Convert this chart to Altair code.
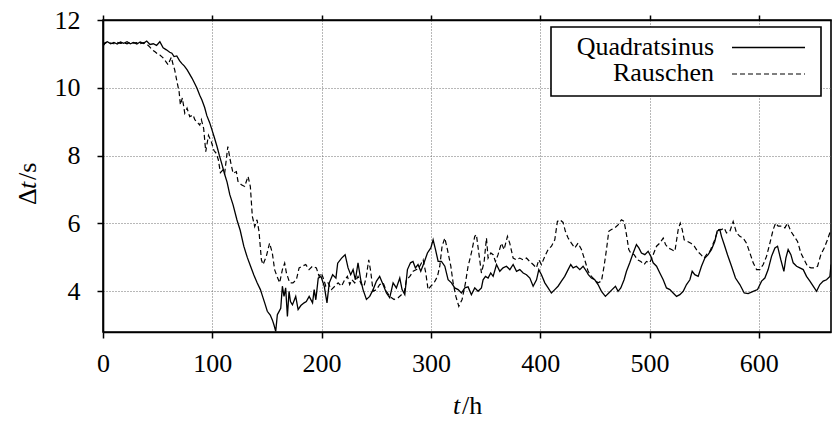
import altair as alt
import pandas as pd

# ---------------- data ----------------
sinus_t = [0, 1.5, 4, 7, 10, 13, 16, 19, 22, 25, 28, 31, 34, 37, 40, 43, 46, 49, 52, 55, 58, 61, 63, 65, 67.5,
           70, 72, 74.5, 77, 79, 81.5, 84, 86, 88.5, 90.5, 93, 95, 97.5, 99.7, 102, 104.3, 106.5, 109, 111, 113.5,
           116, 119, 122.5, 125.5, 128.8, 132, 135, 138, 141, 144, 146, 148, 150.3, 153, 155, 156.5, 158, 159.5,
           161, 162.6, 164.1, 165.6, 167.1, 168.7, 170.2, 171.5, 173.3, 176.3, 178.5, 181, 184, 186, 188.6, 191.7,
           193.2, 194.7, 196.9, 199.4, 202.4, 204.9, 207, 210.1, 213.1, 214.7, 218.3, 221.5, 224.2, 226.6, 228.8,
           230.9, 233.3, 235.8, 237.9, 241, 244, 247.1, 250.2, 253.1, 256.2, 259.3, 262.3, 265.4, 268.4, 271.5,
           273.6, 276.1, 278.5, 281.3, 283.6, 285.8, 288.2, 290.7, 293.7, 296.8, 299.9, 302, 304.2, 306.6, 309.6,
           312.7, 315.7, 318.8, 321.8, 324.9, 327.9, 331, 334, 337, 340.1, 343.1, 346.2, 347.7, 349.9, 352.3,
           354.7, 356.9, 360, 363, 366, 369.1, 372.2, 375.2, 378.3, 381.3, 384.4, 387.4, 390.5, 393.5, 396.6,
           398.7, 401.1, 404.2, 407.2, 410.2, 413.3, 416.3, 419.4, 422.4, 425.5, 427.9, 430.1, 433.1, 436.2,
           439.2, 442.3, 444, 446.8, 449.9, 452.9, 456, 459.6, 462.7, 465.7, 468.8, 471.2, 473.7, 476.7, 478.9,
           481.9, 485, 488, 490.2, 492.6, 495.7, 498.7, 501.2, 503.3, 506.4, 509.4, 512.5, 515.5, 518.6, 521.6,
           524.7, 527.7, 530.8, 533.8, 536.9, 539, 541.4, 544.5, 547.5, 550.6, 553.6, 556.6, 559.7, 561.8, 564.3,
           565.8, 568.3, 571.3, 575, 578.6, 582.6, 586.6, 590.2, 594.8, 598.8, 602.5, 605.5, 608.5, 611.6, 614.7,
           617.1, 620.1, 622.9, 624.7, 626.8, 629.3, 631.4, 634.5, 637.5, 640.6, 643.6, 646.7, 649.7, 652.8,
           655.8, 658.9, 661.9, 665, 666]
sinus_dt = [11.22, 11.32, 11.36, 11.3, 11.34, 11.29, 11.35, 11.31, 11.36, 11.3, 11.34, 11.29, 11.35, 11.31, 11.38,
            11.28, 11.3, 11.25, 11.36, 11.18, 11.12, 11.05, 11.02, 10.92, 10.94, 10.8, 10.72, 10.64, 10.53, 10.42,
            10.28, 10.12, 9.99, 9.78, 9.64, 9.42, 9.18, 8.98, 8.76, 8.52, 8.27, 8.0, 7.72, 7.48, 7.22, 6.85, 6.55,
            6.11, 5.8, 5.33, 5.0, 4.74, 4.48, 4.25, 4.05, 3.85, 3.65, 3.41, 3.3, 3.15, 3.0, 2.82, 3.31, 3.4, 3.5,
            4.15, 3.85, 4.1, 3.26, 4.0, 3.7, 3.6, 3.85, 3.46, 3.58, 3.66, 3.7, 3.85, 3.66, 4.05, 3.75, 4.39, 4.44,
            4.15, 3.66, 4.25, 4.49, 4.39, 4.83, 4.98, 5.08, 4.69, 4.49, 4.64, 4.34, 4.84, 4.34, 4.05, 3.76, 3.85,
            4.05, 4.3, 4.44, 4.2, 3.95, 3.81, 4.25, 4.1, 4.39, 4.05, 3.9, 4.64, 4.84, 4.88, 4.69, 4.79, 4.59, 4.84,
            5.13, 5.28, 5.52, 5.23, 4.88, 4.88, 4.74, 4.34, 4.25, 4.1, 4.05, 3.95, 4.1, 4.13, 3.9, 4.1, 4.0, 4.1,
            4.34, 4.44, 4.39, 4.54, 4.44, 4.79, 4.59, 4.69, 4.74, 4.64, 4.79, 4.59, 4.64, 4.54, 4.49, 4.39, 4.15,
            4.34, 4.64, 4.49, 4.25, 4.1, 3.95, 4.05, 4.15, 4.3, 4.44, 4.64, 4.79, 4.69, 4.74, 4.64, 4.74, 4.59,
            4.49, 4.39, 4.34, 4.2, 4.0, 3.85, 3.95, 4.05, 4.15, 4.0, 4.1, 4.34, 4.59, 4.84, 5.13, 5.38, 5.28, 5.13,
            5.08, 5.18, 5.03, 4.84, 4.74, 4.54, 4.34, 4.1, 4.05, 3.95, 3.85, 3.9, 4.0, 4.2, 4.34, 4.59, 4.49, 4.44,
            4.74, 4.98, 5.08, 5.23, 5.47, 5.77, 5.82, 5.62, 5.38, 5.08, 4.74, 4.39, 4.2, 3.95, 3.93, 4.0, 4.05, 4.3,
            4.39, 4.64, 5.03, 5.28, 5.33, 4.93, 4.59, 4.98, 5.23, 5.08, 4.84, 4.74, 4.69, 4.64, 4.44, 4.3, 4.15,
            4.0, 4.2, 4.3, 4.34, 4.44, 4.79]

rausch_t = [0, 1.5, 4, 7, 10, 13, 16, 19, 22, 25, 28, 31, 34, 37, 39.7, 42.7, 45, 47.3, 50, 52, 54.5, 56.5, 59.5,
            62.5, 64, 65.6, 67.7, 69.6, 70.8, 72.6, 74.8, 76.9, 79.3, 82.4, 84, 86.9, 88.5, 90, 92.1, 94, 96.5,
            99.2, 101.5, 103.6, 105.5, 107.4, 109.8, 111.3, 114.2, 116.5, 119, 122, 123.5, 126.6, 129.6, 132.7,
            134.8, 136.6, 138.8, 140.9, 142.7, 144.9, 146.4, 149.4, 152.4, 154.9, 157, 159.2, 161.6, 164.1, 166.2,
            167.8, 170.8, 173.8, 176.9, 179.4, 182.4, 185.5, 188.5, 191.6, 195.2, 197.7, 199.8, 202, 203.8, 205.9,
            209, 212.1, 215.1, 218.2, 221.1, 223.6, 225.7, 227.8, 230.3, 233.3, 236.4, 238.8, 240.9, 243.1, 244.9,
            247.1, 250.2, 253.2, 256.3, 259.3, 262.4, 266.3, 270, 273, 275.5, 277.6, 280.7, 283.7, 286.8, 289.8,
            292.9, 295.3, 297.4, 299.9, 302.9, 306, 308.1, 310.2, 312.7, 315.1, 318.2, 320.3, 322.8, 325.5, 328.5,
            331.6, 334, 337, 340.1, 341.6, 343.8, 346.2, 348.7, 350.8, 352.3, 354.8, 356.9, 359, 361.4, 364.5,
            366.9, 370, 372.1, 375.2, 378.2, 381.3, 384.3, 387.4, 390.4, 393.5, 396.5, 398.7, 401.1, 404.2, 407.2,
            410.3, 413.3, 415.7, 417.9, 420.9, 423, 425.5, 428.5, 431.6, 434.6, 437.7, 440.7, 443.8, 446.8, 449.9,
            452.9, 456, 458.4, 460.6, 462.7, 465.1, 468.2, 471.2, 474.3, 476.7, 478.9, 481, 482.8, 485.9, 488.9,
            492, 495, 497.2, 500.2, 503.3, 506.4, 509.4, 512.5, 514.6, 517.1, 520.1, 523.2, 526.2, 528.1, 529.9,
            531.7, 534.8, 537.8, 540.9, 543.9, 547, 550, 553.1, 555.5, 559.7, 562.7, 565.8, 568.3, 570.4, 573.5,
            576.5, 579.6, 582.6, 585.7, 588.7, 591.8, 594.8, 597.9, 600.9, 604, 607, 610.1, 613.1, 615.3, 617.7,
            620.7, 623.8, 626.2, 629.3, 632.3, 635.4, 638.4, 641.5, 644.5, 647.6, 650.6, 653.7, 656.7, 659.8,
            662.8, 665.9]
rausch_dt = [11.25, 11.3, 11.35, 11.32, 11.3, 11.34, 11.31, 11.33, 11.3, 11.35, 11.32, 11.33, 11.3, 11.33, 11.3,
             11.21, 11.12, 11.07, 11.0, 10.97, 10.9, 10.82, 10.68, 10.9, 10.7, 10.53, 10.18, 9.89, 9.5, 9.7, 9.25,
             9.4, 9.15, 9.2, 9.06, 8.96, 8.9, 9.06, 8.8, 8.12, 8.6, 8.4, 8.15, 8.07, 7.88, 7.5, 7.58, 7.48, 8.27,
             7.85, 7.48, 7.53, 7.24, 7.14, 7.09, 7.39, 7.09, 6.21, 5.91, 6.11, 5.77, 4.93, 4.79, 5.03, 5.42, 5.13,
             4.64, 4.44, 4.25, 4.64, 4.83, 4.54, 4.25, 4.25, 4.34, 4.69, 4.74, 4.79, 4.64, 4.74, 4.69, 4.44, 4.54,
             4.34, 4.15, 4.25, 4.05, 4.15, 4.25, 4.15, 4.34, 4.44, 4.2, 4.34, 4.25, 4.44, 4.2, 4.15, 4.44, 4.93,
             4.59, 4.0, 4.05, 4.2, 4.25, 4.0, 3.85, 3.76, 3.81, 3.9, 3.95, 4.34, 4.44, 4.59, 4.64, 4.74, 4.93, 4.54,
             4.05, 4.15, 4.25, 4.44, 4.74, 5.33, 5.57, 5.23, 4.74, 4.25, 3.85, 3.56, 3.76, 4.25, 4.74, 5.13, 5.62,
             5.67, 5.13, 4.54, 4.88, 5.57, 4.98, 5.13, 5.08, 4.88, 5.08, 5.42, 5.23, 5.62, 5.42, 4.98, 4.93, 4.98,
             4.93, 4.98, 4.88, 4.79, 4.69, 4.93, 4.79, 5.03, 5.23, 5.33, 5.52, 6.06, 6.11, 6.03, 5.77, 5.57, 5.42,
             5.28, 5.42, 5.23, 4.93, 4.59, 4.44, 4.34, 4.25, 4.3, 4.74, 5.23, 5.77, 5.82, 5.87, 5.96, 6.11, 6.06,
             5.67, 5.23, 5.13, 5.08, 4.93, 4.88, 4.79, 4.88, 4.84, 5.08, 5.33, 5.42, 5.57, 5.38, 5.28, 5.23, 5.18,
             5.82, 6.01, 5.82, 5.52, 5.47, 5.42, 5.33, 5.18, 5.08, 4.98, 5.13, 5.2, 5.52, 5.82, 5.82, 5.87, 5.72,
             5.77, 6.06, 5.72, 5.62, 5.57, 5.42, 5.13, 4.84, 4.64, 4.64, 4.79, 5.03, 5.42, 5.82, 6.01, 5.92, 5.92,
             5.87, 6.01, 5.77, 5.62, 5.47, 5.13, 4.93, 4.74, 4.69, 4.69, 4.74, 5.08, 5.28, 5.52, 5.82]

series_names = ["Quadratsinus", "Rauschen"]
x_ticks = [0, 100, 200, 300, 400, 500, 600]
y_ticks = [4, 6, 8, 10, 12]
x_domain = [0, 666]
y_domain = [2.8, 12]

# ---------------- build table ----------------
df = pd.concat([
    pd.DataFrame({"t": sinus_t, "dt": sinus_dt, "series": series_names[0]}),
    pd.DataFrame({"t": rausch_t, "dt": rausch_dt, "series": series_names[1]}),
], ignore_index=True)

FONT = "Liberation Serif"
FS = 26
W, H = 728, 312

xscale = alt.Scale(domain=x_domain, nice=False, zero=False)
yscale = alt.Scale(domain=y_domain, nice=False, zero=False)

GRID = dict(grid=True, gridColor="#707070", gridDash=[1, 2], gridWidth=1)
AX = dict(domainColor="black", domainWidth=1.6, tickColor="black", tickWidth=1.5, tickSize=6,
          labelFont=FONT, labelFontSize=FS, labelColor="black", labelFlush=False, labelOverlap=False,
          title=None, format="d")

x_axis = alt.Axis(orient="bottom", values=x_ticks, labelPadding=12, **GRID, **AX)
y_axis = alt.Axis(orient="left", values=y_ticks, labelPadding=17, **GRID, **AX)

base = alt.Chart(df)

# main layer carries the axes
solid = base.transform_filter(alt.datum.series == series_names[0]).mark_line(
    color="black", strokeWidth=1.3, clip=True
).encode(
    x=alt.X("t:Q", scale=xscale, axis=x_axis),
    y=alt.Y("dt:Q", scale=yscale, axis=y_axis),
)

dashed = base.transform_filter(alt.datum.series == series_names[1]).mark_line(
    color="black", strokeWidth=1.2, strokeDash=[5, 3], clip=True
).encode(
    x=alt.X("t:Q", scale=xscale, axis=None),
    y=alt.Y("dt:Q", scale=yscale, axis=None),
)

# mirrored tick marks on the top border
top_axis = base.mark_point(opacity=0).encode(
    x=alt.X("t:Q", scale=xscale,
            axis=alt.Axis(orient="top", values=x_ticks, labels=False, title=None, grid=False,
                          domainColor="black", domainWidth=1.6, tickColor="black",
                          tickWidth=1.5, tickSize=5)),
    y=alt.Y("dt:Q", scale=yscale, axis=None),
)

# ---------------- legend (drawn by hand, gnuplot style) ----------------
leg_df = pd.DataFrame({"label": series_names})
box = alt.Chart(leg_df.head(1)).mark_rect(fill="white", stroke="black", strokeWidth=1.6).encode(
    x=alt.value(448), x2=alt.value(718), y=alt.value(7), y2=alt.value(76)
)
leg_text1 = alt.Chart(leg_df.iloc[[0]]).mark_text(
    font=FONT, fontSize=FS, align="right", baseline="alphabetic", color="black"
).encode(text="label:N", x=alt.value(611), y=alt.value(35))
leg_text2 = alt.Chart(leg_df.iloc[[1]]).mark_text(
    font=FONT, fontSize=FS, align="right", baseline="alphabetic", color="black"
).encode(text="label:N", x=alt.value(611), y=alt.value(61))
leg_line1 = alt.Chart(leg_df.iloc[[0]]).mark_rule(color="black", strokeWidth=1.3).encode(
    x=alt.value(629), x2=alt.value(702), y=alt.value(27.5)
)
leg_line2 = alt.Chart(leg_df.iloc[[1]]).mark_rule(color="black", strokeWidth=1.2, strokeDash=[5, 3]).encode(
    x=alt.value(629), x2=alt.value(702), y=alt.value(54)
)

# ---------------- axis titles with italic t ----------------
t_df = pd.DataFrame({"s": ["t"]})
xt_italic = alt.Chart(t_df).mark_text(font=FONT, fontSize=FS, fontStyle="italic", align="left",
                                      baseline="alphabetic", color="black").encode(
    text="s:N", x=alt.value(350), y=alt.value(394))
xt_rest = alt.Chart(pd.DataFrame({"s": ["/h"]})).mark_text(font=FONT, fontSize=FS, align="left",
                                                           baseline="alphabetic", color="black").encode(
    text="s:N", x=alt.value(359), y=alt.value(394))

yt_delta = alt.Chart(pd.DataFrame({"s": ["Δ"]})).mark_text(font=FONT, fontSize=FS, align="left", angle=270,
                                                            baseline="alphabetic", color="black").encode(
    text="s:N", x=alt.value(-67), y=alt.value(185))
yt_italic = alt.Chart(t_df).mark_text(font=FONT, fontSize=FS, fontStyle="italic", align="left", angle=270,
                                      baseline="alphabetic", color="black").encode(
    text="s:N", x=alt.value(-67), y=alt.value(169))
yt_rest = alt.Chart(pd.DataFrame({"s": ["/s"]})).mark_text(font=FONT, fontSize=FS, align="left", angle=270,
                                                           baseline="alphabetic", color="black").encode(
    text="s:N", x=alt.value(-67), y=alt.value(160))

chart = alt.layer(
    solid, dashed, top_axis, box, leg_text1, leg_text2, leg_line1, leg_line2,
    xt_italic, xt_rest, yt_delta, yt_italic, yt_rest,
).resolve_axis(x="independent", y="independent").properties(
    width=W, height=H,
    autosize=alt.AutoSizeParams(type="none"),
    padding={"left": 103, "top": 20, "right": 1, "bottom": 89},
    background="white",
).configure_view(stroke="black", strokeWidth=1.6)

chart.save("out.html", embed_options={"renderer": "svg", "actions": False})
